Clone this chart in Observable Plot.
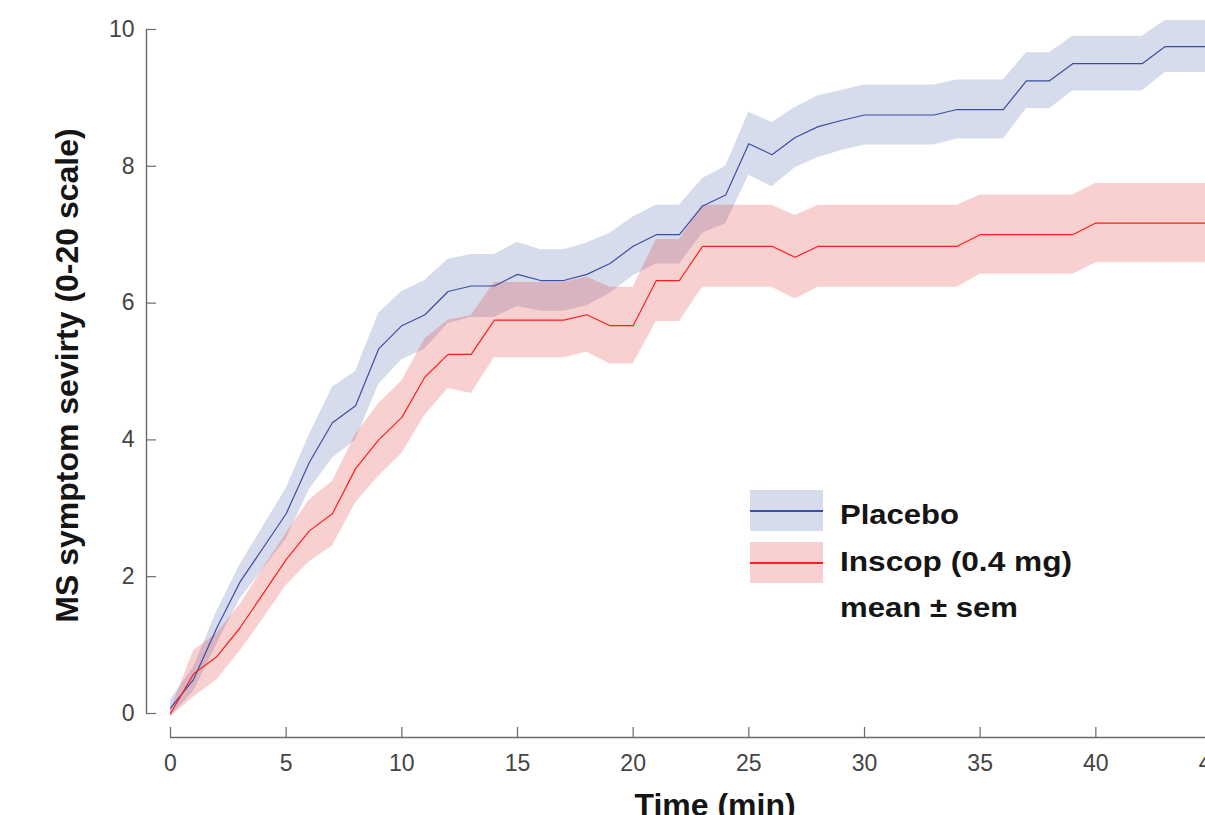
<!DOCTYPE html>
<html>
<head>
<meta charset="utf-8">
<script src="https://cdn.jsdelivr.net/npm/d3@7"></script>
<script src="https://cdn.jsdelivr.net/npm/@observablehq/plot@0.6"></script>
<style>
  html, body { margin: 0; padding: 0; background: #fff; overflow: hidden; }
  #chart { position: relative; width: 1205px; height: 815px; overflow: hidden; }
  #chart svg.plot-main { max-width: none !important; display: block; }
  #legend { position: absolute; left: 0; top: 0; pointer-events: none; }
</style>
</head>
<body>
<div id="chart"></div>
<script>
// Time after onset (min)
const minutes = [0, 1, 2, 3, 4, 5, 6, 7, 8, 9, 10, 11, 12, 13, 14, 15, 16, 17, 18, 19, 20,
  21, 22, 23, 24, 25, 26, 27, 28, 29, 30, 31, 32, 33, 34, 35, 36, 37, 38, 39, 40,
  41, 42, 43, 44, 45];

// Placebo: mean and standard error of MS symptom severity
const placeboMean = [0.08, 0.50, 1.25, 1.92, 2.42, 2.92, 3.67, 4.25, 4.50, 5.33, 5.67,
  5.83, 6.17, 6.25, 6.25, 6.42, 6.33, 6.33, 6.42, 6.58, 6.83,
  7.00, 7.00, 7.42, 7.58, 8.33, 8.17, 8.42, 8.58, 8.67, 8.75,
  8.75, 8.75, 8.75, 8.83, 8.83, 8.83, 9.25, 9.25, 9.50, 9.50,
  9.50, 9.50, 9.75, 9.75, 9.75];
const placeboSem = [0.12, 0.18, 0.24, 0.25, 0.31, 0.37, 0.40, 0.52, 0.50, 0.52, 0.50,
  0.50, 0.47, 0.46, 0.46, 0.47, 0.45, 0.45, 0.46, 0.44, 0.43,
  0.43, 0.43, 0.40, 0.42, 0.46, 0.47, 0.44, 0.45, 0.44, 0.44,
  0.44, 0.44, 0.44, 0.43, 0.43, 0.43, 0.41, 0.41, 0.40, 0.40,
  0.40, 0.40, 0.38, 0.38, 0.38];

// Inscop (0.4 mg): mean and standard error
const inscopMean = [0.00, 0.58, 0.83, 1.25, 1.75, 2.25, 2.67, 2.92, 3.58, 4.00, 4.33,
  4.92, 5.25, 5.25, 5.75, 5.75, 5.75, 5.75, 5.83, 5.67, 5.67,
  6.33, 6.33, 6.83, 6.83, 6.83, 6.83, 6.67, 6.83, 6.83, 6.83,
  6.83, 6.83, 6.83, 6.83, 7.00, 7.00, 7.00, 7.00, 7.00, 7.17,
  7.17, 7.17, 7.17, 7.17, 7.17];
const inscopSem = [0.05, 0.34, 0.34, 0.34, 0.37, 0.38, 0.45, 0.47, 0.50, 0.53, 0.53,
  0.56, 0.50, 0.57, 0.55, 0.55, 0.55, 0.55, 0.55, 0.56, 0.56,
  0.60, 0.60, 0.60, 0.60, 0.60, 0.60, 0.61, 0.60, 0.60, 0.60,
  0.60, 0.60, 0.60, 0.60, 0.58, 0.58, 0.58, 0.58, 0.58, 0.58,
  0.58, 0.58, 0.58, 0.58, 0.58];

const xTicks = [0, 5, 10, 15, 20, 25, 30, 35, 40, 45];
const yTicks = [0, 2, 4, 6, 8, 10];

const seriesNames = ["Placebo", "Inscop (0.4 mg)"];
const lineColors = ["#3B4DA6", "#FF1E1E"];
const bandColors = ["#3250A0", "#E11414"];

const placebo = minutes.map((t, i) => ({t, mean: placeboMean[i], sem: placeboSem[i]}));
const inscop = minutes.map((t, i) => ({t, mean: inscopMean[i], sem: inscopSem[i]}));

const axisGray = "#6a6a6a";
const font = "'Liberation Sans', Arial, Helvetica, sans-serif";

const plot = Plot.plot({
  width: 1240,
  height: 815,
  marginLeft: 170,
  marginRight: 29,
  marginTop: 29,
  marginBottom: 102,
  style: {fontFamily: font, background: "#fff", maxWidth: "none", overflow: "visible"},
  x: {domain: [0, 45], axis: null},
  y: {domain: [0, 10], axis: null},
  marks: [
    // mean ± sem bands
    Plot.areaY(placebo, {x: "t", y1: d => d.mean - d.sem, y2: d => d.mean + d.sem,
      fill: bandColors[0], fillOpacity: 0.2}),
    Plot.areaY(inscop, {x: "t", y1: d => d.mean - d.sem, y2: d => d.mean + d.sem,
      fill: bandColors[1], fillOpacity: 0.2}),
    // mean lines
    Plot.lineY(placebo, {x: "t", y: "mean", stroke: lineColors[0], strokeWidth: 1.2}),
    Plot.lineY(inscop, {x: "t", y: "mean", stroke: lineColors[1], strokeWidth: 1.2}),
    // offset axes with inward ticks
    Plot.ruleX([0], {y1: 0, y2: 10, dx: -24, stroke: axisGray, strokeWidth: 1.4}),
    Plot.ruleY([0], {x1: 0, x2: 45, dy: 24, stroke: axisGray, strokeWidth: 1.4}),
    Plot.axisY(yTicks, {anchor: "left", dx: -24, tickSize: -10, tickPadding: 22,
      tickFormat: d => String(d),
      stroke: axisGray, strokeWidth: 1.2, fill: "#444", fontSize: 23, label: null}),
    Plot.axisX(xTicks, {anchor: "bottom", dy: 24, tickSize: -10, tickPadding: 27,
      tickFormat: d => String(d),
      stroke: axisGray, strokeWidth: 1.2, fill: "#444", fontSize: 23, label: null}),
    // axis titles
    Plot.text(["MS symptom sevirty (0-20 scale)"], {frameAnchor: "left", rotate: -90,
      textAnchor: "middle", dx: -103, dy: 4, fontSize: 32, fontWeight: "bold", fill: "#151515"}),
    Plot.text(["Time (min)"], {frameAnchor: "bottom", dx: 24, dy: 80, lineAnchor: "top",
      textAnchor: "middle", fontSize: 32, fontWeight: "bold", fill: "#151515"})
  ]
});
plot.classList.add("plot-main");
document.getElementById("chart").appendChild(plot);

// Legend
const legend = d3.select("#chart").append("svg")
  .attr("id", "legend").attr("width", 1205).attr("height", 815)
  .style("font-family", font);
const keyRows = [
  {name: seriesNames[0], top: 490, text: 524, width: 119, i: 0},
  {name: seriesNames[1], top: 542, text: 571, width: 232, i: 1}
];
keyRows.forEach(r => {
  legend.append("rect").attr("x", 750).attr("y", r.top).attr("width", 73).attr("height", 41)
    .attr("fill", bandColors[r.i]).attr("fill-opacity", 0.2);
  legend.append("line").attr("x1", 750).attr("x2", 823)
    .attr("y1", r.top + 21).attr("y2", r.top + 21)
    .attr("stroke", lineColors[r.i]).attr("stroke-width", 2);
  legend.append("text").attr("x", 840).attr("y", r.text)
    .attr("font-size", 28).attr("font-weight", "bold").attr("fill", "#151515")
    .attr("textLength", r.width).attr("lengthAdjust", "spacingAndGlyphs")
    .text(r.name);
});
legend.append("text").attr("x", 840).attr("y", 617)
  .attr("font-size", 28).attr("font-weight", "bold").attr("fill", "#151515")
  .attr("textLength", 178).attr("lengthAdjust", "spacingAndGlyphs")
  .text("mean ± sem");
</script>
</body>
</html>
